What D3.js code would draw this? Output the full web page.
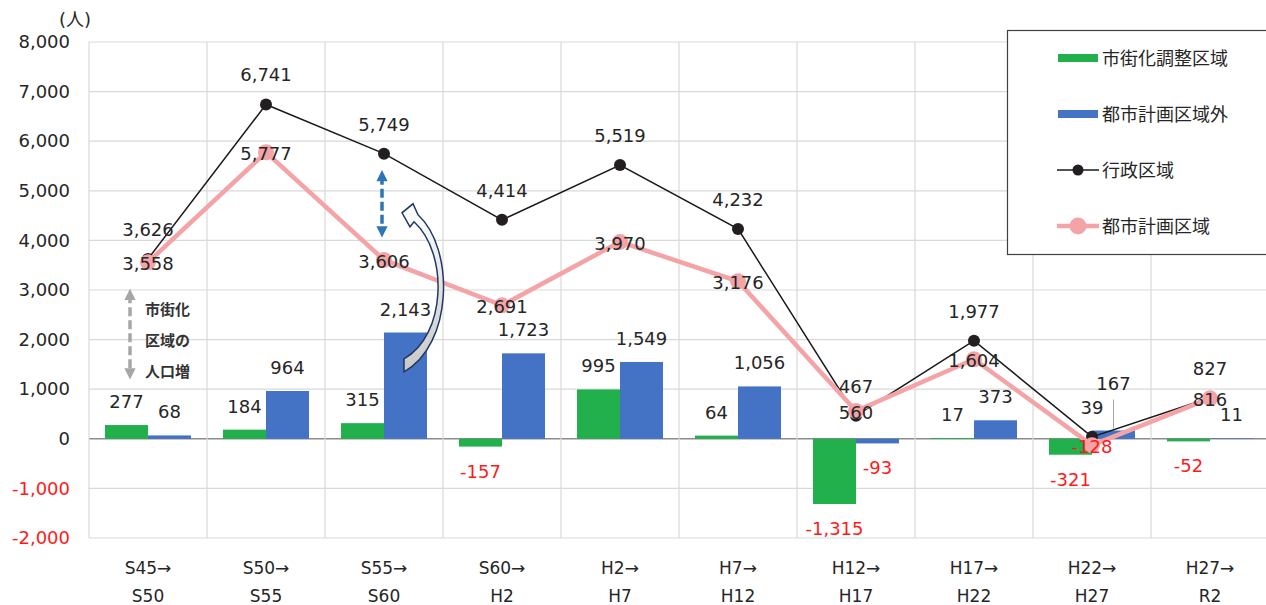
<!DOCTYPE html>
<html>
<head>
<meta charset="utf-8">
<script src="https://cdn.jsdelivr.net/npm/d3@7"></script>
<style>
  body { margin: 0; background: #fff; }
  svg text { font-family: "DejaVu Sans", "Noto Sans CJK JP", sans-serif; }
</style>
</head>
<body>
<div class="chartHolder"></div>
<script>
var periods = ["S45→|S50", "S50→|S55", "S55→|S60", "S60→|H2", "H2→|H7", "H7→|H12", "H12→|H17", "H17→|H22", "H22→|H27", "H27→|R2"];
var chouseiValues = [277, 184, 315, -157, 995, 64, -1315, 17, -321, -52];   // 市街化調整区域
var gaiValues = [68, 964, 2143, 1723, 1549, 1056, -93, 373, 167, 11];         // 都市計画区域外
var gyouseiValues = [3626, 6741, 5749, 4414, 5519, 4232, 467, 1977, 39, 827]; // 行政区域
var toshiValues = [3558, 5777, 3606, 2691, 3970, 3176, 560, 1604, -128, 816]; // 都市計画区域
var yTicks = [-2000, -1000, 0, 1000, 2000, 3000, 4000, 5000, 6000, 7000, 8000];
var legendNames = ["市街化調整区域", "都市計画区域外", "行政区域", "都市計画区域"];

var svgW = 1266, svgH = 605;
var margin = { top: 42, right: -3, bottom: 67, left: 89 };
var w = svgW - margin.left - margin.right,
    h = svgH - margin.top - margin.bottom;

var green = "#21b04b", blue = "#4472c4", pink = "#f4a3a6", red = "#ff1a1a";
var fmt = function (d) { return d3.format(",")(d).replace("−", "-"); };

var svg = d3.select(".chartHolder").append("svg").attr("width", svgW).attr("height", svgH);
var g = svg.append("g").attr("transform", "translate(" + margin.left + "," + margin.top + ")");

var xScale = d3.scaleBand().domain(periods).range([0, w]);
var yScale = d3.scaleLinear().domain([-2000, 8000]).range([h, 0]);
var bw = xScale.bandwidth();
var barW = 43;
var cx = function (i) { return xScale(periods[i]) + bw / 2; };

// grid
g.selectAll(".hgrid").data(yTicks).enter().append("line")
  .attr("x1", 0).attr("x2", w)
  .attr("y1", function (d) { return yScale(d); }).attr("y2", function (d) { return yScale(d); })
  .attr("stroke", function (d) { return d === 0 ? "#8c8c8c" : "#d9d9d9"; })
  .attr("stroke-width", function (d) { return d === 0 ? 1.5 : 1.2; });
g.selectAll(".vgrid").data(periods).enter().append("line")
  .attr("x1", function (d) { return xScale(d); }).attr("x2", function (d) { return xScale(d); })
  .attr("y1", 0).attr("y2", h)
  .attr("stroke", "#d9d9d9").attr("stroke-width", 1.2);

// y axis
var yAxis = d3.axisLeft(yScale).tickValues(yTicks).tickFormat(fmt).tickSize(0).tickPadding(19);
var ya = g.append("g").attr("id", "y-axis").call(yAxis);
ya.select(".domain").remove();
ya.selectAll("text").attr("font-size", 18).attr("font-family", "DejaVu Sans")
  .attr("fill", function (d) { return d < 0 ? red : "#262626"; });

// x axis (two-line labels)
var xAxis = d3.axisBottom(xScale).tickSize(0).tickFormat("");
var xa = g.append("g").attr("transform", "translate(0," + h + ")").call(xAxis);
xa.select(".domain").remove();
xa.selectAll(".tick").each(function (d) {
  var parts = d.split("|");
  var t = d3.select(this).append("text").attr("fill", "#262626").attr("font-size", 17).attr("text-anchor", "middle");
  t.append("tspan").attr("x", 0).attr("y", 36).text(parts[0]);
  t.append("tspan").attr("x", 0).attr("y", 64).text(parts[1]);
});

svg.append("text").attr("x", 75).attr("y", 26).attr("font-size", 18).attr("fill", "#262626")
  .attr("text-anchor", "middle").text("(人)");

// bars
function bars(values, color, offset) {
  g.selectAll(null).data(values).enter().append("rect")
    .attr("x", function (d, i) { return cx(i) + offset; })
    .attr("y", function (d) { return yScale(Math.max(d, 0)); })
    .attr("width", barW)
    .attr("height", function (d) { return Math.abs(yScale(d) - yScale(0)); })
    .attr("fill", color);
}
bars(chouseiValues, green, -barW);
bars(gaiValues, blue, 0);

// bar labels
function barLabels(values, offset, key) {
  g.selectAll(null).data(values).enter().append("text")
    .attr("x", function (d, i) { return cx(i) + offset + barW / 2; })
    .attr("y", function (d, i) {
      if (d < 0) return yScale(d) + 25 + 6;
      if (key === "gai" && i === 8) return yScale(d) - 47 + 6;
      return yScale(d) - 23 + 6;
    })
    .attr("text-anchor", "middle").attr("font-size", 18)
    .attr("fill", function (d) { return d < 0 ? red : "#262626"; })
    .text(function (d) { return fmt(d); });
}
barLabels(chouseiValues, -barW, "chousei");
barLabels(gaiValues, 0, "gai");
// leader line for 167
g.append("line").attr("x1", cx(8) + barW / 2).attr("x2", cx(8) + barW / 2)
  .attr("y1", yScale(167) - 31).attr("y2", yScale(167) - 2)
  .attr("stroke", "#a6a6a6").attr("stroke-width", 1);

// lines
var line = function (values) {
  return d3.line().x(function (d, i) { return cx(i); }).y(function (d) { return yScale(d); })(values);
};
g.append("path").attr("d", line(gyouseiValues)).attr("fill", "none").attr("stroke", "#1a1a1a").attr("stroke-width", 1.5);
g.selectAll(null).data(gyouseiValues).enter().append("circle")
  .attr("cx", function (d, i) { return cx(i); }).attr("cy", function (d) { return yScale(d); })
  .attr("r", 6).attr("fill", "#231f20");
g.append("path").attr("d", line(toshiValues)).attr("fill", "none").attr("stroke", pink).attr("stroke-width", 4.5);
g.selectAll(null).data(toshiValues).enter().append("circle")
  .attr("cx", function (d, i) { return cx(i); }).attr("cy", function (d) { return yScale(d); })
  .attr("r", 8).attr("fill", pink);

// line labels
g.selectAll(null).data(gyouseiValues).enter().append("text")
  .attr("x", function (d, i) { return cx(i); })
  .attr("y", function (d) { return yScale(d) - 29 + 6; })
  .attr("text-anchor", "middle").attr("font-size", 18).attr("fill", "#262626")
  .text(function (d) { return fmt(d); });
g.selectAll(null).data(toshiValues).enter().append("text")
  .attr("x", function (d, i) { return cx(i); })
  .attr("y", function (d) { return yScale(d) + 2 + 6; })
  .attr("text-anchor", "middle").attr("font-size", 18)
  .attr("fill", function (d) { return d < 0 ? red : "#262626"; })
  .text(function (d) { return fmt(d); });

// annotations
var defs = svg.append("defs");
function arrowHead(id, color) {
  defs.append("marker").attr("id", id).attr("viewBox", "0 0 10 10").attr("refX", 5).attr("refY", 5)
    .attr("markerWidth", 4.2).attr("markerHeight", 3.2).attr("orient", "auto-start-reverse")
    .attr("markerUnits", "strokeWidth")
    .append("path").attr("d", "M0,0 L10,5 L0,10 Z").attr("fill", color);
}
arrowHead("grayHead", "#a6a6a6");
arrowHead("blueHead", "#2e75b6");

var ax0 = cx(0) - 18;
g.append("line").attr("x1", ax0).attr("x2", ax0)
  .attr("y1", yScale(3558) + 32).attr("y2", yScale(0) - 65)
  .attr("stroke", "#a6a6a6").attr("stroke-width", 3.5).attr("stroke-dasharray", "9,4")
  .attr("marker-start", "url(#grayHead)").attr("marker-end", "url(#grayHead)");
var note = g.append("text").attr("font-size", 15).attr("font-weight", "bold").attr("fill", "#333")
  .attr("font-family", "Noto Sans CJK JP");
["市街化", "区域の", "人口増"].forEach(function (s, k) {
  note.append("tspan").attr("x", ax0 + 15).attr("y", yScale(3558) + 53 + k * 31).text(s);
});

var ax2 = cx(2) - 2;
g.append("line").attr("x1", ax2).attr("x2", ax2)
  .attr("y1", yScale(5749) + 22).attr("y2", yScale(3606) - 28)
  .attr("stroke", "#2e75b6").attr("stroke-width", 3.5).attr("stroke-dasharray", "9,4")
  .attr("marker-start", "url(#blueHead)").attr("marker-end", "url(#blueHead)");

// curved hollow arrow from the bar up to the gap
var grad = defs.append("linearGradient").attr("id", "curveFill").attr("x1", 0).attr("y1", 0).attr("x2", 0).attr("y2", 1);
grad.append("stop").attr("offset", "0%").attr("stop-color", "#ffffff");
grad.append("stop").attr("offset", "100%").attr("stop-color", "#c8c8c8");
var X0 = cx(2), Y0 = yScale(0);
var pts = function (a) { return a.map(function (p) { return (X0 + p[0]) + "," + (Y0 + p[1]); }).join(" "); };
var curve = "M" + pts([[20, -80]]) +
  " C" + pts([[62, -103], [65, -185], [30, -217]]) +
  " L" + pts([[26, -212]]) +
  " L" + pts([[18, -226]]) +
  " L" + pts([[29, -235]]) +
  " L" + pts([[34, -224]]) +
  " C" + pts([[71, -190], [69, -94], [20, -67]]) + " Z";
g.append("path").attr("d", curve).attr("fill", "url(#curveFill)").attr("stroke", "#1f3864")
  .attr("stroke-width", 1.5).attr("stroke-linejoin", "miter");

// legend
var lg = svg.append("g");
lg.append("rect").attr("x", 1007.5).attr("y", 30.5).attr("width", 262).attr("height", 224)
  .attr("fill", "#fff").attr("stroke", "#404040").attr("stroke-width", 1.2);
legendNames.forEach(function (name, k) {
  var ly = 58 + k * 56;
  if (k < 2) {
    lg.append("rect").attr("x", 1058).attr("y", ly - 4).attr("width", 40).attr("height", 8)
      .attr("fill", k === 0 ? green : blue);
  } else {
    lg.append("line").attr("x1", 1057).attr("x2", 1099).attr("y1", ly).attr("y2", ly)
      .attr("stroke", k === 2 ? "#1a1a1a" : pink).attr("stroke-width", k === 2 ? 1.5 : 4.5);
    lg.append("circle").attr("cx", 1078).attr("cy", ly).attr("r", k === 2 ? 5.5 : 8.5)
      .attr("fill", k === 2 ? "#231f20" : pink);
  }
  lg.append("text").attr("x", 1102).attr("y", ly + 7).attr("font-size", 18).attr("fill", "#262626")
    .attr("font-family", "Noto Sans CJK JP").text(name);
});
</script>
</body>
</html>
